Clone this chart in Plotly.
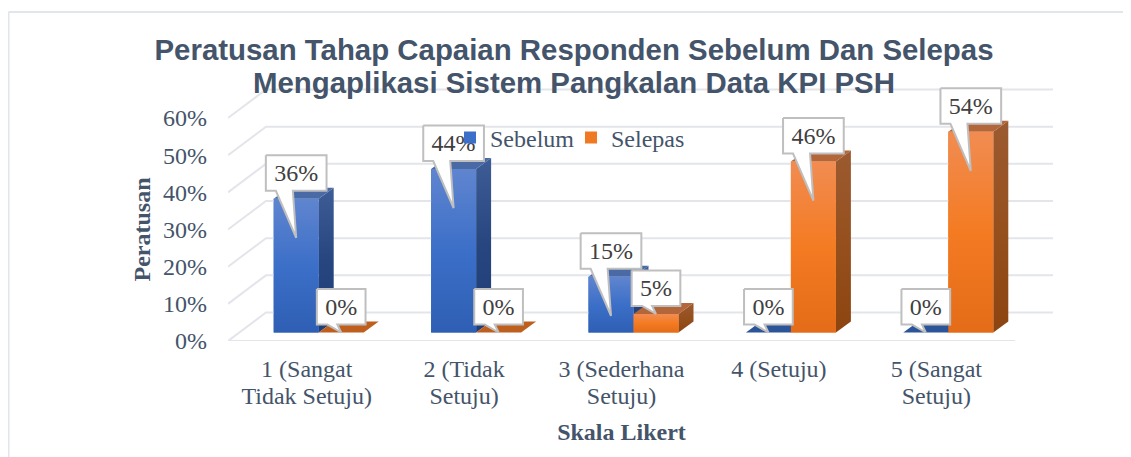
import plotly.graph_objects as go

# ---- data -------------------------------------------------------------
categories = ["1 (Sangat<br>Tidak Setuju)", "2 (Tidak<br>Setuju)", "3 (Sederhana<br>Setuju)",
              "4 (Setuju)", "5 (Sangat<br>Setuju)"]
sebelum = [36, 44, 15, 0, 0]
selepas = [0, 0, 5, 46, 54]
sebelum_tail = [10.5, 10.5, 10.5, 0, 0]
selepas_tail = [0, 0, 0, 10.5, 10.5]
y_ticks = [0, 10, 20, 30, 40, 50, 60]
title_lines = ["Peratusan Tahap Capaian Responden Sebelum Dan Selepas",
               "Mengaplikasi Sistem Pangkalan Data KPI PSH"]

# ---- geometry (page pixels; the page body adds an 8 px margin) ---------
PAGE = 8
W, H = 1131 - PAGE, 457 - PAGE
FL, FR, FT, FB = 228, 1015, 118, 341      # front face of the chart box
TOP, RIGHT = 55, 1060                     # room for the back wall and callouts
UX = (FR - FL) / 5.0                      # pixels per category
UY = (FB - FT) / 60.0                     # pixels per percent
BAR_W = 45 / UX
FLOOR_DX, FLOOR_DY = 12 / UX, 8.5 / UY
DEPTH_DX, DEPTH_DY = 15 / UX, 11 / UY
WALL_DX, WALL_DY = 38 / UX, 28.5 / UY

TEXT = "#44546A"
SERIF = "Liberation Serif"
SANS = "Liberation Sans"
GRID = "#E3E5EA"

fig = go.Figure()
xs = list(range(len(categories)))


def poly(px, py, **kw):
    fig.add_trace(go.Scatter(x=px + px[:1], y=py + py[:1], xaxis="x2", yaxis="y2", mode="lines",
                             fill="toself", line=kw.pop("line", dict(width=0)), showlegend=False,
                             hoverinfo="skip", **kw))


def grad(top, mid, bot):
    return dict(type="vertical", colorscale=[[0, bot], [0.5, mid], [1, top]])


# base bars: carry the data and the legend
for name, vals, col, off in [("Sebelum", sebelum, "#3C6FC8", -BAR_W),
                             ("Selepas", selepas, "#F07A24", 0)]:
    fig.add_trace(go.Bar(name=name, x=[i + FLOOR_DX for i in xs], y=vals, base=FLOOR_DY,
                         width=BAR_W, offset=off, marker=dict(color=col, line=dict(width=0)),
                         hoverinfo="skip"))

# gridlines (floor and walls)
for t in y_ticks:
    fig.add_trace(go.Scatter(x=[-0.5, -0.5 + WALL_DX, 4.5 + WALL_DX], y=[t, t + WALL_DY, t + WALL_DY],
                             xaxis="x2", yaxis="y2", mode="lines", line=dict(color=GRID, width=2),
                             showlegend=False, hoverinfo="skip", cliponaxis=False))
fig.add_trace(go.Scatter(x=[-0.5, 4.5], y=[0, 0], xaxis="x2", yaxis="y2", mode="lines",
                         line=dict(color=GRID, width=2), showlegend=False, hoverinfo="skip",
                         cliponaxis=False))

# 3-D looking columns
styles = [
    (sebelum, -BAR_W, grad("#6085CF", "#3C6FC8", "#2E5FB4"), grad("#3E5D96", "#27467F", "#1F3E78"), "#4A6AA6", "#2C5599"),
    (selepas, 0, grad("#F18C52", "#F47B22", "#E46C18"), grad("#9B5A30", "#96501E", "#8C4510"), "#B36639", "#BF5F1E"),
]
for vals, off, front, side, topc, topz in styles:
    for i, v in zip(xs, vals):
        x0 = i + FLOOR_DX + off
        x1 = x0 + BAR_W
        y0 = FLOOR_DY
        y1 = FLOOR_DY + v
        if v > 0:
            poly([x1, x1 + DEPTH_DX, x1 + DEPTH_DX, x1],
                 [y0, y0 + DEPTH_DY, y1 + DEPTH_DY, y1], fillgradient=side)
            poly([x0, x0 + DEPTH_DX, x1 + DEPTH_DX, x1],
                 [y1, y1 + DEPTH_DY, y1 + DEPTH_DY, y1], fillcolor=topc)
            poly([x0, x1, x1, x0], [y0, y0, y1, y1], fillgradient=front)
        else:
            poly([x0, x0 + DEPTH_DX, x1 + DEPTH_DX, x1],
                 [y1, y1 + DEPTH_DY, y1 + DEPTH_DY, y1], fillcolor=topz)

# callout data labels
LABEL_UP = 25.7 / UY
BOX_H = 35.5 / UY
TEXT_DROP = 2 / UY
for vals, tails, off in [(sebelum, sebelum_tail, -BAR_W), (selepas, selepas_tail, 0)]:
    for i, v, tail in zip(xs, vals, tails):
        cx = i + FLOOR_DX + off + BAR_W / 2
        top = FLOOR_DY + v
        label = f"{v}%"
        bw = (60.7 if v >= 10 else 48.7) / UX
        cy = top + LABEL_UP
        bl, br = cx - bw / 2, cx + bw / 2
        yb, yt = cy - BOX_H / 2, cy + BOX_H / 2
        if tail:
            ta, tb, tip = 10 / UX, 27 / UX, bw / 2
        else:
            ta, tb, tip = 10.5 / UX, 20.5 / UX, bw / 2
        poly([bl, br, br, bl + tb, bl + tip, bl + ta, bl],
             [yt, yt, yb, yb, top - tail, yb, yb],
             fillcolor="white", line=dict(color="#BFBFBF", width=2))
        fig.add_trace(go.Scatter(x=[cx], y=[cy - TEXT_DROP], xaxis="x2", yaxis="y2", mode="text",
                                 text=[label], textposition="middle center",
                                 textfont=dict(family=SERIF, size=24, color="#404040"),
                                 showlegend=False, hoverinfo="skip"))


def sized(text, size):
    return f'<span style="font-size:{size}px">{text}</span>'


title_text = "<br>".join(sized(t, 29.4) for t in title_lines)
tick_text = ["<br>".join(sized(p, 24) for p in c.split("<br>")) for c in categories]

fx = lambda px: (px - FL) / (RIGHT - FL)
fy = lambda py: (FB - py) / (FB - TOP)

fig.update_layout(
    width=W, height=H, autosize=False,
    margin=dict(l=FL - PAGE, r=W - (RIGHT - PAGE), t=TOP - PAGE, b=H - (FB - PAGE), pad=0, autoexpand=False),
    paper_bgcolor="white", plot_bgcolor="rgba(0,0,0,0)",
    title=dict(text=title_text, x=(574 - PAGE) / W, xanchor="center", xref="container",
               y=1 - 52 / H, yanchor="top", yref="container",
               font=dict(family=SANS, size=25.4, color=TEXT, weight=700)),
    barmode="overlay",
    showlegend=True,
    legend=dict(orientation="h", x=fx(450), y=fy(138),
                xanchor="left", yanchor="middle", bgcolor="rgba(0,0,0,0)",
                font=dict(family=SERIF, size=24, color=TEXT), entrywidth=76,
                entrywidthmode="pixels", traceorder="normal"),
    xaxis=dict(range=[-0.5, 4.5], domain=[0, fx(FR)], anchor="y", tickmode="array", tickvals=xs,
               ticktext=tick_text, showgrid=False, zeroline=False, showline=False, ticks="",
               tickfont=dict(family=SERIF, size=21.5, color=TEXT), ticklabelstandoff=13,
               title=dict(text="Skala Likert", standoff=14,
                          font=dict(family=SERIF, size=24, color=TEXT, weight=700))),
    yaxis=dict(range=[0, 60], domain=[0, fy(FT)], anchor="x", tickmode="array", tickvals=y_ticks,
               ticktext=[f"{t}%" for t in y_ticks], showgrid=False, zeroline=False, showline=False,
               ticks="", tickfont=dict(family=SERIF, size=24, color=TEXT), ticklabelstandoff=20,
               title=dict(text="Peratusan", standoff=5,
                          font=dict(family=SERIF, size=24, color=TEXT, weight=700))),
    xaxis2=dict(range=[-0.5, -0.5 + (RIGHT - FL) / UX], domain=[0, 1], anchor="y2", visible=False),
    yaxis2=dict(range=[0, (FB - TOP) / UY], domain=[0, 1], anchor="x2", visible=False),
    shapes=[dict(type="line", xref="paper", yref="paper", layer="below",
                 x0=fx(PAGE + 0.5), x1=fx(PAGE + 0.5), y0=fy(12), y1=fy(457),
                 line=dict(color="#E1E6EC", width=2)),
            dict(type="line", xref="paper", yref="paper", layer="below",
                 x0=fx(PAGE + 0.5), x1=fx(1131), y0=fy(12), y1=fy(12),
                 line=dict(color="#E1E6EC", width=2))],
)
fig.write_html("out.html")
